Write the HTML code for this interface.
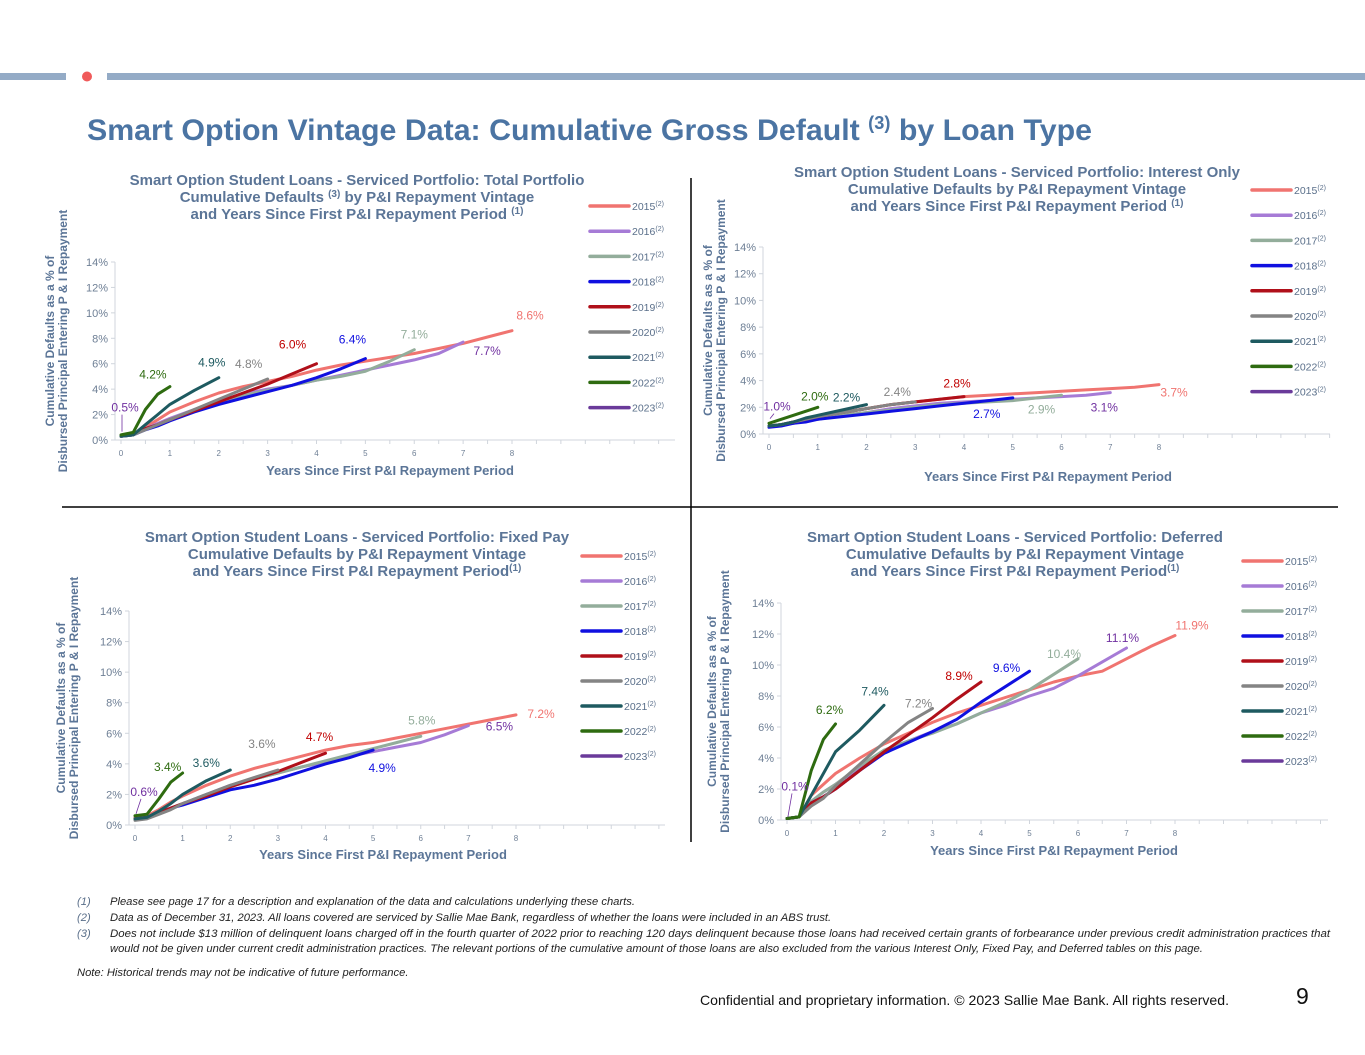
<!DOCTYPE html>
<html><head><meta charset="utf-8"><style>
html,body{margin:0;padding:0;background:#fff;}
svg{display:block;font-family:"Liberation Sans",sans-serif;}
</style></head><body>
<svg id="pg" width="1365" height="1055" viewBox="0 0 1365 1055">
<rect x="0" y="73" width="66" height="7" fill="#94abc6"/>
<circle cx="87" cy="76.5" r="5" fill="#f05a5a"/>
<rect x="107" y="73" width="1258" height="7" fill="#94abc6"/>
<text x="87" y="140" font-size="30" font-weight="bold" fill="#4b74a3" textLength="1005" lengthAdjust="spacingAndGlyphs">Smart Option Vintage Data: Cumulative Gross Default <tspan font-size="18" dy="-11">(3)</tspan><tspan dy="11"> by Loan Type</tspan></text>
<line x1="691" y1="178" x2="691" y2="842" stroke="#000" stroke-width="1.5"/>
<line x1="62" y1="507" x2="1338" y2="507" stroke="#000" stroke-width="1.5"/>
<g id="charts"></g>
<g font-size="11.2" font-style="italic" fill="#222">
<text x="77" y="905" fill="#5a6f8a">(1)</text><text x="110" y="905">Please see page 17 for a description and explanation of the data and calculations underlying these charts.</text>
<text x="77" y="921" fill="#5a6f8a">(2)</text><text x="110" y="921">Data as of  December 31, 2023. All loans covered are serviced by Sallie Mae Bank, regardless of whether the loans were included in an ABS trust.</text>
<text x="77" y="937" fill="#5a6f8a">(3)</text><text x="110" y="937" textLength="1220" lengthAdjust="spacingAndGlyphs">Does not include $13 million of delinquent loans charged off in the fourth quarter of 2022 prior to reaching 120 days delinquent because those loans had received certain grants of forbearance under previous credit administration practices that</text>
<text x="110" y="952">would not be given under current credit administration practices. The relevant portions of the cumulative amount of those loans are also excluded from the various Interest Only, Fixed Pay, and Deferred tables on this page.</text>
<text x="77" y="976">Note: Historical trends may not be indicative of future performance.</text>
</g>
<text x="700" y="1005" font-size="14" fill="#111" textLength="529" lengthAdjust="spacingAndGlyphs">Confidential and proprietary information. © 2023 Sallie Mae Bank. All rights reserved.</text>
<text x="1296" y="1004" font-size="23" fill="#111">9</text>
</svg>
<script>
const xsGrid = [0,0.25,0.5,0.75,1,1.5,2,2.5,3,3.5,4,4.5,5,5.5,6,6.5,7,7.5,8];
const vintages = ["2015","2016","2017","2018","2019","2020","2021","2022","2023"];
const yTicks = [0,2,4,6,8,10,12,14];
const xTicks = [0,1,2,3,4,5,6,7,8];
const totalVals = [
 [0.3,0.4,1.0,1.6,2.2,3.0,3.7,4.2,4.6,5.0,5.5,5.9,6.2,6.5,6.8,7.2,7.6,8.1,8.6],
 [0.3,0.4,0.9,1.3,1.7,2.4,3.1,3.6,4.0,4.3,4.7,5.1,5.5,5.9,6.3,6.8,7.7],
 [0.3,0.4,0.8,1.2,1.6,2.3,3.0,3.5,3.9,4.3,4.7,5.0,5.4,6.2,7.1],
 [0.3,0.4,0.8,1.1,1.5,2.2,2.8,3.3,3.8,4.3,4.9,5.6,6.4],
 [0.3,0.5,0.9,1.2,1.6,2.3,3.0,3.7,4.4,5.2,6.0],
 [0.3,0.4,0.8,1.2,1.6,2.4,3.2,4.0,4.8],
 [0.3,0.4,1.2,2.0,2.8,3.9,4.9],
 [0.4,0.6,2.4,3.6,4.2],
 [0.5]];
const ioVals = [
 [0.6,0.7,0.9,1.1,1.3,1.6,1.9,2.2,2.4,2.6,2.8,2.9,3.0,3.1,3.2,3.3,3.4,3.5,3.7],
 [0.6,0.7,0.8,1.0,1.1,1.4,1.6,1.9,2.1,2.3,2.4,2.5,2.6,2.7,2.8,2.9,3.1],
 [0.6,0.7,0.8,1.0,1.1,1.4,1.6,1.8,2.0,2.2,2.3,2.4,2.5,2.7,2.9],
 [0.5,0.6,0.8,0.9,1.1,1.3,1.5,1.7,1.9,2.1,2.3,2.5,2.7],
 [0.6,0.7,0.9,1.1,1.3,1.6,1.9,2.2,2.4,2.6,2.8],
 [0.6,0.7,0.9,1.1,1.3,1.6,1.9,2.2,2.4],
 [0.6,0.7,0.9,1.2,1.4,1.8,2.2],
 [0.8,1.1,1.4,1.7,2.0],
 [1.0]];
const fpVals = [
 [0.5,0.6,1.0,1.5,1.9,2.6,3.2,3.7,4.1,4.5,4.9,5.2,5.4,5.7,6.0,6.3,6.6,6.9,7.2],
 [0.4,0.5,0.8,1.1,1.4,2.0,2.6,3.0,3.4,3.8,4.1,4.5,4.8,5.1,5.4,5.9,6.5],
 [0.4,0.5,0.8,1.1,1.4,2.0,2.5,3.0,3.4,3.8,4.2,4.6,5.0,5.4,5.8],
 [0.4,0.5,0.8,1.1,1.3,1.8,2.3,2.6,3.0,3.5,4.0,4.4,4.9],
 [0.4,0.5,0.8,1.1,1.4,1.9,2.5,3.0,3.5,4.1,4.7],
 [0.3,0.4,0.7,1.0,1.4,2.0,2.6,3.1,3.6],
 [0.4,0.5,0.9,1.4,2.0,2.9,3.6],
 [0.6,0.7,1.7,2.8,3.4],
 [0.6]];
const defVals = [
 [0.1,0.2,1.6,2.3,3.0,4.0,4.9,5.6,6.3,6.9,7.4,7.9,8.4,8.9,9.3,9.6,10.4,11.2,11.9],
 [0.1,0.2,1.2,1.8,2.3,3.4,4.5,5.1,5.7,6.2,6.9,7.4,8.0,8.5,9.3,10.2,11.1],
 [0.1,0.2,1.2,1.8,2.3,3.5,4.5,5.1,5.6,6.2,6.9,7.6,8.4,9.4,10.4],
 [0.1,0.2,1.1,1.5,2.0,3.2,4.3,5.0,5.7,6.5,7.6,8.6,9.6],
 [0.1,0.2,1.1,1.5,2.0,3.2,4.4,5.5,6.6,7.8,8.9],
 [0.1,0.2,0.9,1.4,2.2,3.6,5.0,6.3,7.2],
 [0.1,0.2,1.6,3.0,4.4,5.8,7.4],
 [0.1,0.2,3.2,5.2,6.2],
 [0.1]];
const lineColors = ["#f07470","#a67bd6","#93ad9b","#1010e0","#b0101a","#848484","#1e5a60","#2e6b10","#6a3a9a"];
const labelColors = ["#f07470","#7030a0","#93ad9b","#1010e0","#c00000","#848484","#1e5a60","#2e6b10","#7030a0"];

const NS="http://www.w3.org/2000/svg";
function mk(tag,attrs,parent){const e=document.createElementNS(NS,tag);for(const k in attrs)e.setAttribute(k,attrs[k]);parent.appendChild(e);return e;}

const charts=[
 {id:"total",vals:totalVals,x0:121,x8:512,xr:675,y0:440,y14:262,lx:590,ly:206,ls:25.2,
  title:["Smart Option Student Loans - Serviced Portfolio: Total Portfolio","Cumulative Defaults |(3)| by P&I Repayment Vintage","and Years Since First P&I Repayment Period |(1)"],tx:357,ty:185,ytx:60,xtc:390,xty:475,
  off:[[18,-15],[24,9],[0,-15],[-13,-19],[-24,-19],[-19,-15],[-7,-15],[-17,-12],[4,-26]]},
 {id:"interest-only",vals:ioVals,x0:769,x8:1159,xr:1330,y0:434,y14:247,lx:1252,ly:190,ls:25.2,
  title:["Smart Option Student Loans - Serviced Portfolio: Interest Only","Cumulative Defaults by P&I Repayment Vintage","and Years Since First P&I Repayment Period |(1)"],tx:1017,ty:177,ytx:718,xtc:1048,xty:481,
  off:[[15,8],[-6,15],[-20,14],[-26,16],[-7,-13],[-18,-10],[-20,-7],[-3,-11],[8,-14]]},
 {id:"fixed-pay",vals:fpVals,x0:135,x8:516,xr:665,y0:825,y14:611,lx:582,ly:556,ls:25,
  title:["Smart Option Student Loans - Serviced Portfolio: Fixed Pay","Cumulative Defaults by P&I Repayment Vintage","and Years Since First P&I Repayment Period|(1)"],tx:357,ty:542,ytx:71,xtc:383,xty:859,
  off:[[25,-1],[31,1],[1,-16],[9,18],[-6,-16],[-16,-26],[-24,-7],[-15,-6],[9,-24]]},
 {id:"deferred",vals:defVals,x0:787,x8:1175,xr:1328,y0:820,y14:603,lx:1243,ly:561,ls:25,
  title:["Smart Option Student Loans - Serviced Portfolio: Deferred","Cumulative Defaults by P&I Repayment Vintage","and Years Since First P&I Repayment Period|(1)"],tx:1015,ty:542,ytx:722,xtc:1054,xty:855,
  off:[[17,-10],[-4,-10],[-14,-5],[-23,-3],[-22,-6],[-14,-5],[-9,-14],[-6,-14],[8,-32]]}
];
const root=document.getElementById('charts');
charts.forEach(c=>{
 const g=mk('g',{},root);
 
 
 const xS=v=>c.x0+(c.x8-c.x0)*v/8;
 const yS=v=>c.y0+(c.y14-c.y0)*v/14;
 c.title.forEach((ln,i)=>{
  const t=mk('text',{x:c.tx,y:c.ty+i*17,'text-anchor':'middle','font-size':15,'font-weight':'bold',fill:'#5b7597'},g);
  
  
  const parts=ln.split('|');
  parts.forEach((p,j)=>{const s=mk('tspan',{},t);s.textContent=p;if(j%2==1){s.setAttribute('font-size',10);s.setAttribute('dy',-5);}else if(j>0){s.setAttribute('dy',5);}});
 });
 const ax=mk('line',{x1:c.x0-6,y1:c.y0,x2:c.xr,y2:c.y0,stroke:'#d0d5dc','stroke-width':1},g);
 
 
 const ay=mk('line',{x1:c.x0-6,y1:c.y0,x2:c.x0-6,y2:c.y14,stroke:'#d0d5dc','stroke-width':1},g);
 
 
 for(let v=0;xS(v)<=c.xr;v+=0.5){mk('line',{x1:xS(v),y1:c.y0,x2:xS(v),y2:c.y0+4,stroke:'#d0d5dc'},g);}
 yTicks.forEach(v=>{
  mk('line',{x1:c.x0-10,y1:yS(v),x2:c.x0-6,y2:yS(v),stroke:'#d0d5dc'},g);
  const t=mk('text',{x:c.x0-13,y:yS(v)+4,'text-anchor':'end','font-size':11,fill:'#6e7f95'},g);
  
  
  t.textContent=v+'%';
 });
 xTicks.forEach(v=>{
  const t=mk('text',{x:xS(v),y:c.y0+16,'text-anchor':'middle','font-size':8,fill:'#6e7f95'},g);
  
  
  t.textContent=v;
 });
 const xt=mk('text',{x:c.xtc,y:c.xty,'text-anchor':'middle','font-size':13,'font-weight':'bold',fill:'#5b7597'},g);
 
 
 xt.textContent='Years Since First P&I Repayment Period';
 const ymid=(c.y0+c.y14)/2-10;
 ["Cumulative Defaults as a % of","Disbursed Principal  Entering P & I Repayment"].forEach((s,i)=>{
  const t=mk('text',{x:0,y:0,'text-anchor':'middle','font-size':12,'font-weight':'bold',fill:'#5b7597',transform:`translate(${c.ytx-6+i*13},${ymid}) rotate(-90)`},g);
  
  
  t.textContent=s;
 });
 c.vals.forEach((arr,k)=>{
  if(arr.length>1){
   const d=arr.map((v,i)=>(i?'L':'M')+xS(xsGrid[i]).toFixed(1)+','+yS(v).toFixed(1)).join(' ');
   const p=mk('path',{d:d,fill:'none',stroke:lineColors[k],'stroke-width':3,'stroke-linejoin':'round','stroke-linecap':'round'},g);
   
   
  }
  const li=arr.length-1, ex=xS(xsGrid[li]), ey=yS(arr[li]);
  const lb=mk('text',{x:ex+c.off[k][0],y:ey+c.off[k][1]+4,'text-anchor':'middle','font-size':12,fill:labelColors[k]},g);
  
  
  lb.textContent=arr[li].toFixed(1)+'%';
  if(k===8){mk('line',{x1:ex+1,y1:ey-2,x2:ex+c.off[k][0]-3,y2:ey+c.off[k][1]+7,stroke:'#7030a0','stroke-width':0.8},g);}
  const lg=mk('g',{},g);
  
  
  const ly=c.ly+k*c.ls;
  mk('line',{x1:c.lx,y1:ly,x2:c.lx+39,y2:ly,stroke:lineColors[k],'stroke-width':3.5,'stroke-linecap':'round'},lg);
  const lt=mk('text',{x:c.lx+42,y:ly+4,'font-size':10.5,fill:'#5a6f8a'},lg);
  lt.textContent=vintages[k];
  const sp=mk('tspan',{'font-size':7,dy:-4},lt); sp.textContent='(2)';
 });
});
</script>
</body></html>
